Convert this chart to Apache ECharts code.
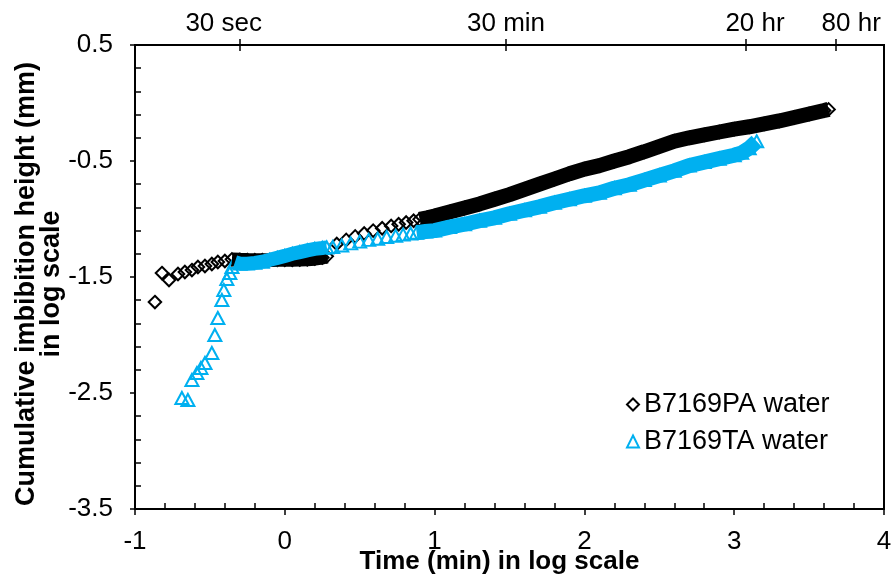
<!DOCTYPE html>
<html>
<head>
<meta charset="utf-8">
<script src="https://cdn.jsdelivr.net/npm/echarts@6/dist/echarts.min.js"></script>
<style>html,body{margin:0;padding:0;background:#fff;}#c{width:893px;height:580px;}</style>
</head>
<body>
<div id="c"></div>
<script>
// ---- data (x = log10 time in min, y = log10 imbibition height in mm) ----
const paStart = [[-0.867,-1.716],[-0.82,-1.466],[-0.773,-1.526],[-0.713,-1.474],[-0.667,-1.457],[-0.62,-1.44],[-0.58,-1.414],[-0.533,-1.405],[-0.487,-1.388],[-0.447,-1.371],[-0.40,-1.362]];
const paBandA = [[-0.353,-1.348],[-0.30,-1.352],[-0.25,-1.354],[-0.20,-1.355],[-0.15,-1.355],[-0.10,-1.354],[-0.05,-1.352],[0.0,-1.352],[0.05,-1.352],[0.10,-1.35],[0.15,-1.347],[0.20,-1.342],[0.25,-1.332],[0.28,-1.322]];
const paMid = [[0.347,-1.215],[0.41,-1.18],[0.47,-1.15],[0.53,-1.125],[0.59,-1.10],[0.65,-1.08],[0.71,-1.06],[0.76,-1.045],[0.81,-1.03],[0.86,-1.015]];
const paBandB = [[0.90,-1.003],[0.95,-0.99],[1.0,-0.975],[1.1,-0.94],[1.2,-0.905],[1.3,-0.87],[1.4,-0.83],[1.5,-0.79],[1.6,-0.745],[1.7,-0.70],[1.8,-0.655],[1.9,-0.61],[2.0,-0.57],[2.1,-0.54],[2.2,-0.50],[2.3,-0.463],[2.4,-0.42],[2.5,-0.375],[2.6,-0.33],[2.7,-0.30],[2.8,-0.275],[2.9,-0.25],[3.0,-0.225],[3.1,-0.205],[3.2,-0.18],[3.3,-0.155],[3.4,-0.125],[3.5,-0.095],[3.6,-0.065],[3.63,-0.055]];

const taStart = [[-0.687,-2.543],[-0.647,-2.56],[-0.62,-2.388],[-0.587,-2.328],[-0.56,-2.284],[-0.533,-2.241],[-0.487,-2.155],[-0.467,-2.0],[-0.447,-1.853],[-0.42,-1.698],[-0.407,-1.612],[-0.387,-1.517],[-0.367,-1.466],[-0.353,-1.414]];
const taBandA = [[-0.333,-1.371],[-0.30,-1.385],[-0.25,-1.385],[-0.20,-1.378],[-0.15,-1.368],[-0.10,-1.352],[-0.05,-1.335],[0.0,-1.318],[0.05,-1.30],[0.10,-1.285],[0.15,-1.27],[0.20,-1.258],[0.25,-1.25],[0.28,-1.245]];
const taMid = [[0.32,-1.241],[0.38,-1.228],[0.44,-1.21],[0.50,-1.195],[0.56,-1.18],[0.62,-1.17],[0.68,-1.155],[0.74,-1.145],[0.79,-1.135],[0.84,-1.125]];
const taBandB = [[0.88,-1.118],[0.94,-1.108],[1.0,-1.10],[1.1,-1.07],[1.2,-1.045],[1.3,-1.015],[1.4,-0.99],[1.5,-0.955],[1.6,-0.925],[1.7,-0.895],[1.8,-0.86],[1.9,-0.83],[2.0,-0.80],[2.1,-0.775],[2.2,-0.735],[2.3,-0.705],[2.4,-0.665],[2.5,-0.625],[2.6,-0.585],[2.7,-0.54],[2.8,-0.51],[2.9,-0.48],[3.0,-0.45],[3.05,-0.43],[3.1,-0.39],[3.15,-0.33]];

const seriesNames = ['B7169PA water', 'B7169TA water'];
const yMajor = [-3.5, -2.5, -1.5, -0.5, 0.5];
const yLabels = ['-3.5', '-2.5', '-1.5', '-0.5', '0.5'];
const topValues = [-0.301, 1.477, 3.079, 3.681];
const topLabels = ['30 sec', '30 min', '20 hr', '80 hr'];

// minor (inside) tick positions
const xMinor = [];
for (let k = 0; k <= 25; k++) { if (k % 5 !== 0) xMinor.push(+(-1 + 0.2 * k).toFixed(2)); }
const yMinor = [];
for (let k = 0; k <= 20; k++) { if (k % 5 !== 0) yMinor.push(+(-3.5 + 0.2 * k).toFixed(2)); }

const F = 'Liberation Sans, Arial, sans-serif';
const BLACK = '#000000';
const CYAN = '#00B0F0';
const axisLineStyle = { color: '#000', width: 2 };
const tickStyle = { color: '#000', width: 1.5 };
const topRichBase = { fontSize: 26, color: '#000', fontFamily: F };
const topRich = {
  t0: Object.assign({ padding: [0, 32, 0, 0] }, topRichBase),
  t1: Object.assign({ padding: [0, 0, 0, 0] }, topRichBase),
  t2: Object.assign({ padding: [0, 0, 0, 18] }, topRichBase),
  t3: Object.assign({ padding: [0, 0, 0, 30] }, topRichBase)
};

const chart = echarts.init(document.getElementById('c'), null, { renderer: 'canvas' });
const option = {
  animation: false,
  backgroundColor: '#fff',
  grid: { left: 135, right: 9, top: 45, bottom: 71, show: true, borderColor: '#000', borderWidth: 2, backgroundColor: 'transparent', containLabel: false, outerBoundsMode: 'none' },
  xAxis: [
    {
      type: 'value', position: 'bottom', min: -1, max: 4, interval: 1,
      axisLine: { show: true, onZero: false, lineStyle: axisLineStyle },
      axisTick: { show: true, inside: false, length: 6, lineStyle: tickStyle },
      axisLabel: { fontSize: 26, color: '#000', margin: 20, fontFamily: F },
      splitLine: { show: false },
      name: 'Time (min) in log scale', nameLocation: 'middle', nameGap: 40, nameMoveOverlap: false,
      nameTextStyle: { fontSize: 26, fontWeight: 'bold', color: '#000', fontFamily: F, padding: [0, 20, 0, 0] }
    },
    {
      type: 'value', position: 'bottom', min: -1, max: 4,
      axisLine: { show: false, onZero: false },
      axisTick: { show: true, inside: true, length: 6, customValues: xMinor, lineStyle: tickStyle },
      axisLabel: { show: false }, splitLine: { show: false }
    },
    {
      type: 'value', position: 'top', min: -1, max: 4,
      axisLine: { show: true, onZero: false, lineStyle: axisLineStyle },
      axisTick: { show: true, inside: false, length: 6, customValues: topValues, lineStyle: tickStyle },
      axisLabel: {
        show: true, customValues: topValues, fontSize: 26, color: '#000', margin: 8, fontFamily: F,
        formatter: function (v) { const i = topValues.findIndex(t => Math.abs(t - v) < 1e-6); return i >= 0 ? '{t' + i + '|' + topLabels[i] + '}' : ''; },
        rich: topRich
      },
      splitLine: { show: false }
    },
    {
      type: 'value', position: 'top', min: -1, max: 4,
      axisLine: { show: false, onZero: false },
      axisTick: { show: true, inside: true, length: 6, customValues: topValues, lineStyle: tickStyle },
      axisLabel: { show: false }, splitLine: { show: false }
    }
  ],
  yAxis: [
    {
      type: 'value', position: 'left', min: -3.5, max: 0.5,
      axisLine: { show: true, onZero: false, lineStyle: axisLineStyle },
      axisTick: { show: true, inside: false, length: 5, customValues: yMajor, lineStyle: tickStyle },
      axisLabel: {
        customValues: yMajor, fontSize: 26, color: '#000', margin: 22, fontFamily: F,
        formatter: function (v) { const i = yMajor.findIndex(t => Math.abs(t - v) < 1e-6); return i >= 0 ? yLabels[i] : ''; }
      },
      splitLine: { show: false },
      name: 'Cumulative imbibition height (mm)\nin log scale', nameLocation: 'middle', nameGap: 71, nameMoveOverlap: false,
      nameTextStyle: { fontSize: 27, fontWeight: 'bold', color: '#000', fontFamily: F, lineHeight: 25, padding: [0, 14, 0, 0] }
    },
    {
      type: 'value', position: 'left', min: -3.5, max: 0.5,
      axisLine: { show: false, onZero: false },
      axisTick: { show: true, inside: true, length: 6, customValues: yMinor, lineStyle: tickStyle },
      axisLabel: { show: false }, splitLine: { show: false }
    }
  ],
  legend: {
    orient: 'vertical', left: 621, top: 386, itemWidth: 12, itemHeight: 12, itemGap: 10,
    textStyle: { fontSize: 27, color: '#000', fontFamily: F, lineHeight: 27 },
    data: seriesNames
  },
  series: [
    { name: 'paBandA', type: 'line', data: paBandA, symbol: 'none', silent: true, lineStyle: { color: BLACK, width: 14 } },
    { name: 'paBandB', type: 'line', data: paBandB, symbol: 'none', silent: true, lineStyle: { color: BLACK, width: 15 } },
    {
      name: seriesNames[0], type: 'scatter', symbol: 'diamond', symbolSize: 12.5,
      data: paStart.concat(paBandA, paMid, paBandB),
      itemStyle: { color: 'rgba(0,0,0,0)', borderColor: BLACK, borderWidth: 2, opacity: 1 }
    },
    { name: 'taBandA', type: 'line', data: taBandA, symbol: 'none', silent: true, lineStyle: { color: CYAN, width: 14 } },
    { name: 'taBandB', type: 'line', data: taBandB, symbol: 'none', silent: true, lineStyle: { color: CYAN, width: 15 } },
    {
      name: seriesNames[1], type: 'scatter', symbol: 'triangle', symbolSize: [13, 12],
      data: taStart.concat(taBandA, taMid, taBandB),
      itemStyle: { color: 'rgba(0,0,0,0)', borderColor: CYAN, borderWidth: 2, opacity: 1 }
    }
  ]
};
chart.setOption(option);
</script>
</body>
</html>
